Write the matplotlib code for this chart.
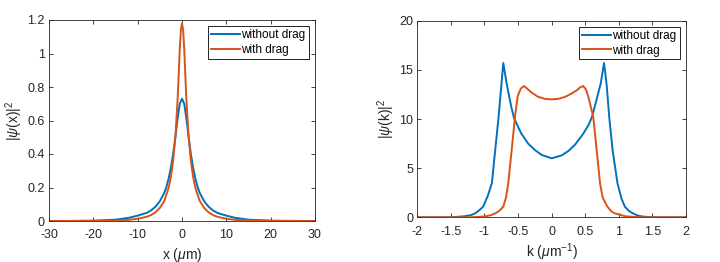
import matplotlib
matplotlib.use("Agg")
import matplotlib.pyplot as plt

# Left panel: |psi(x)|^2
x_blue = [-30, -25, -20, -15, -12, -10, -8, -7, -6, -5, -4, -3.5, -3, -2.5, -2, -1.5, -1, -0.5, 0,
          0.5, 1, 1.5, 2, 2.5, 3, 3.5, 4, 5, 6, 7, 8, 10, 12, 15, 20, 25, 30]
y_blue = [0.0002, 0.0006, 0.002, 0.008, 0.019, 0.032, 0.048, 0.063, 0.085, 0.118, 0.168, 0.205, 0.255, 0.32, 0.40, 0.50, 0.61, 0.70, 0.73,
          0.70, 0.61, 0.50, 0.40, 0.32, 0.255, 0.205, 0.168, 0.118, 0.085, 0.063, 0.048, 0.032, 0.019, 0.008, 0.002, 0.0006, 0.0002]
x_red = [-30, -25, -20, -15, -12, -10, -8, -7, -6, -5, -4, -3, -2.5, -2, -1.5, -1, -0.75, -0.5, -0.25, 0,
         0.25, 0.5, 0.75, 1, 1.5, 2, 2.5, 3, 4, 5, 6, 7, 8, 10, 12, 15, 20, 25, 30]
y_red = [0, 0.0001, 0.0005, 0.003, 0.007, 0.013, 0.025, 0.035, 0.052, 0.078, 0.12, 0.2, 0.265, 0.36, 0.5, 0.72, 0.87, 1.03, 1.14, 1.18,
         1.14, 1.03, 0.87, 0.72, 0.5, 0.36, 0.265, 0.2, 0.12, 0.078, 0.052, 0.035, 0.025, 0.013, 0.007, 0.003, 0.0005, 0.0001, 0]

# Right panel: |psi(k)|^2
k_blue = [-2, -1.5, -1.3, -1.2, -1.14, -1.08, -1.02, -0.95, -0.89, -0.84, -0.79, -0.72, -0.67, -0.6, -0.56, -0.5,
          -0.45, -0.35, -0.25, -0.15, 0,
          0.15, 0.25, 0.35, 0.47, 0.55, 0.6, 0.67, 0.73, 0.78, 0.82, 0.857, 0.907, 0.98, 1.04, 1.09, 1.15, 1.21, 1.28, 1.35, 1.5, 2]
yk_blue = [0, 0, 0.1, 0.22, 0.4, 0.7, 1.08, 2.2, 3.46, 6.85, 10.2, 15.7, 13.6, 11.2, 10.1, 9.2,
           8.5, 7.5, 6.85, 6.35, 6.0,
           6.3, 6.75, 7.4, 8.5, 9.4, 10.2, 12.0, 13.6, 15.7, 13.4, 10.2, 6.85, 3.46, 1.9, 1.08, 0.65, 0.4, 0.18, 0.08, 0, 0]
k_red = [-2, -1.2, -1.0, -0.9, -0.84, -0.78, -0.72, -0.68, -0.646, -0.595, -0.546, -0.506, -0.46, -0.41, -0.35, -0.3, -0.2, -0.1, 0,
         0.1, 0.2, 0.3, 0.38, 0.42, 0.47, 0.51, 0.545, 0.62, 0.67, 0.72, 0.76, 0.83, 0.89, 0.94, 1.1, 1.3, 2]
yk_red = [0, 0, 0.08, 0.22, 0.4, 0.65, 1.08, 2.0, 3.46, 6.85, 10.2, 12.3, 13.1, 13.36, 13.0, 12.7, 12.25, 12.05, 12.0,
          12.05, 12.25, 12.6, 12.95, 13.2, 13.36, 13.0, 12.3, 10.2, 6.85, 3.46, 2.0, 1.08, 0.6, 0.4, 0.1, 0, 0]

labels = ["without drag", "with drag"]
c_blue = "#0072BD"
c_red = "#D95319"

plt.rcParams['font.family'] = ['Liberation Sans', 'DejaVu Sans']
plt.rcParams['mathtext.fontset'] = 'custom'
plt.rcParams['mathtext.it'] = 'Liberation Sans:italic'
plt.rcParams['mathtext.rm'] = 'Liberation Sans'
plt.rcParams['axes.unicode_minus'] = False
grey = "#262626"

W, H = 720, 262
fig = plt.figure(figsize=(W / 100, H / 100), dpi=100)
ax1 = fig.add_axes([49 / W, (H - 221) / H, (315 - 49) / W, (221 - 20) / H])
ax2 = fig.add_axes([417.3 / W, (H - 217.3) / H, (686 - 417.3) / W, (217.3 - 20.7) / H])

def style(ax):
    for s in ax.spines.values():
        s.set_color(grey)
        s.set_linewidth(0.6)
    ax.tick_params(direction='in', top=True, right=True, length=3, width=0.6,
                   colors=grey, labelsize=9)
    ax.tick_params(axis='x', pad=6)
    ax.tick_params(axis='y', pad=3)

ax1.plot(x_blue, y_blue, color=c_blue, lw=1.4, label=labels[0])
ax1.plot(x_red, y_red, color=c_red, lw=1.4, label=labels[1])
ax1.set_xlim(-30, 30)
ax1.set_ylim(0, 1.2)
ax1.set_xticks([-30, -20, -10, 0, 10, 20, 30])
ax1.set_yticks([0, 0.2, 0.4, 0.6, 0.8, 1.0, 1.2])
ax1.set_yticklabels(['0', '0.2', '0.4', '0.6', '0.8', '1', '1.2'])
ax1.set_xlabel(r'x ($\mu$m)', fontsize=10, color=grey, labelpad=3)
ax1.set_ylabel(r'|$\psi$(x)|$^2$', fontsize=10, color=grey, labelpad=2)
style(ax1)

ax2.plot(k_blue, yk_blue, color=c_blue, lw=1.4, label=labels[0])
ax2.plot(k_red, yk_red, color=c_red, lw=1.4, label=labels[1])
ax2.set_xlim(-2, 2)
ax2.set_ylim(0, 20)
ax2.set_xticks([-2, -1.5, -1, -0.5, 0, 0.5, 1, 1.5, 2])
ax2.set_xticklabels(['-2', '-1.5', '-1', '-0.5', '0', '0.5', '1', '1.5', '2'])
ax2.set_yticks([0, 5, 10, 15, 20])
ax2.set_xlabel(r'k ($\mu$m$^{-1}$)', fontsize=10, color=grey, labelpad=3)
ax2.set_ylabel(r'|$\psi$(k)|$^2$', fontsize=10, color=grey, labelpad=1.5)
style(ax2)

for ax in (ax1, ax2):
    leg = ax.legend(loc='upper right', fontsize=8.5, frameon=True, fancybox=False,
                    edgecolor='black', framealpha=1, borderpad=0.25, handlelength=2.5,
                    handletextpad=0.1, labelspacing=0.2, borderaxespad=0.55)
    leg.get_frame().set_linewidth(0.6)

fig.savefig("out.png", dpi=100)
